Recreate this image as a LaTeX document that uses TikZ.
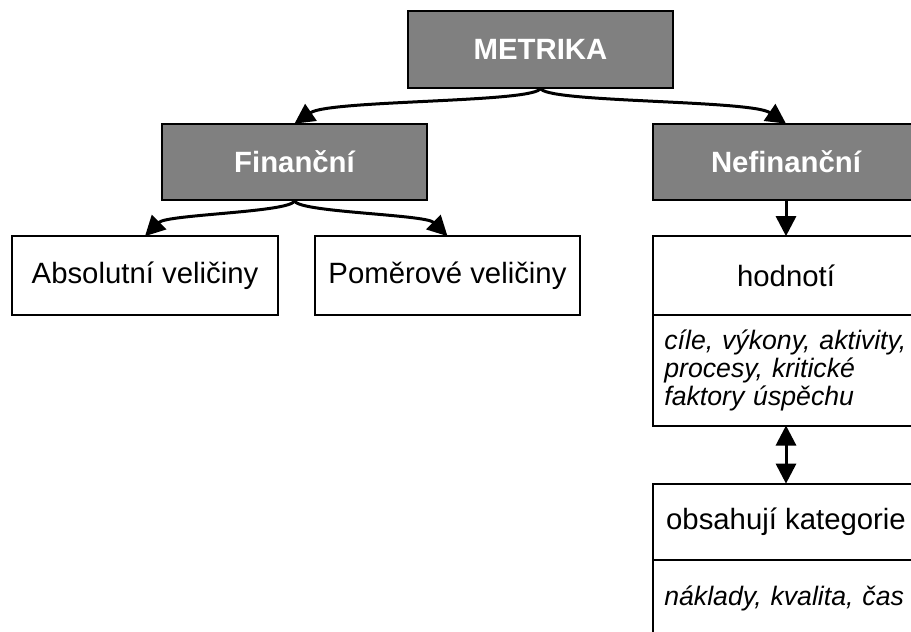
\documentclass[tikz,border=0pt]{standalone}
\usepackage{fontspec}
\setmainfont{Liberation Sans}
\usepackage{tikz}
\usetikzlibrary{arrows.meta, positioning}
\definecolor{headgray}{RGB}{128,128,128}
\tikzset{
  basebox/.style={draw, line width=1.5pt, minimum width=199pt, minimum height=57.5pt,
    inner sep=0pt, outer sep=0pt, font=\fontsize{22}{26}\selectfont},
  headbox/.style={basebox, fill=headgray, text=white, font=\fontsize{22}{26}\selectfont\bfseries},
  listbox/.style={draw, line width=1.5pt, anchor=north west, text width=190pt, outer sep=0pt,
    inner xsep=8.25pt, inner ysep=0pt, align=left, font=\fontsize{20}{21}\selectfont\itshape},
  link/.style={line width=2.25pt, -{Triangle[length=15pt,width=15pt]}},
  dlink/.style={line width=2.25pt, {Triangle[length=15pt,width=15pt]}-{Triangle[length=15pt,width=15pt]}}
}

\begin{document}
\begin{tikzpicture}[x=0.75pt, y=-0.75pt]
  \useasboundingbox (0,0) rectangle (911,632);
  \clip (0,0) rectangle (911,632);
  % top levels
  \node[headbox] (met) at (540.5,49.5) {METRIKA};
  \node[headbox] (fin) at (294.5,162) {Finanční};
  \node[headbox] (nef) at (786,162) {Nefinanční};
  % financial
  \node[basebox, minimum height=59pt] (abs) at (145,275.5) {Absolutní veličiny};
  \node[basebox, minimum height=59pt] (pom) at (447.5,275.5) {Poměrové veličiny};
  % non-financial
  \node[basebox, minimum height=59pt] (hod) at (786,275.5) {hodnotí};
  \node[listbox, minimum height=83pt] (hodlist) at (hod.south west)
    {cíle, výkony, aktivity,\\ procesy, kritické\\ faktory úspěchu};
  \node[basebox] (obs) at (786,522) {obsahují kategorie};
  \node[listbox, minimum height=57pt] (obslist) at (obs.south west) {náklady, kvalita, čas};
  % connectors
  \draw[link] (met.south) .. controls +(0,15) and +(35,-24) .. (fin.north);
  \draw[link] (met.south) .. controls +(0,15) and +(-35,-24) .. (nef.north);
  \draw[link] (fin.south) .. controls +(0,12) and +(22,-22) .. (abs.north);
  \draw[link] (fin.south) .. controls +(0,12) and +(-22,-22) .. (pom.north);
  \draw[link] (nef.south) -- (hod.north);
  \draw[dlink] (hod.south |- hodlist.south) -- (obs.north);
\end{tikzpicture}
\end{document}
